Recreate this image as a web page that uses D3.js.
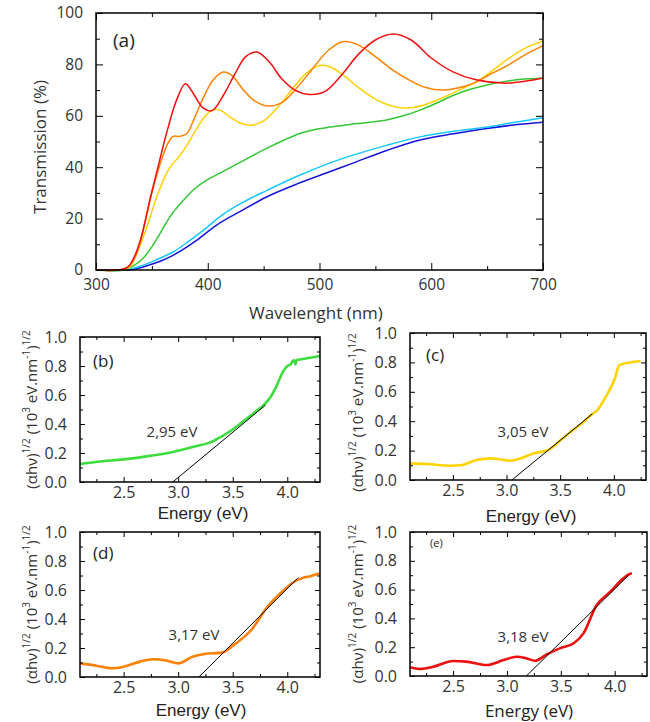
<!DOCTYPE html>
<html><head><meta charset="utf-8">
<script src="https://cdn.jsdelivr.net/npm/d3@7"></script>
<style>body{margin:0;background:#fff}svg{display:block}</style>
</head><body>
<svg id="c" width="650" height="722"></svg>
<script>
// ---------- Panel (a): transmission spectra ----------
const redWl=[300,320,328,333,340,348,356,363,372,380,388,396,404,414,424,434,444,455,466,478,491,505,520,535,550,566,582,600,620,640,667,685,700];
const redT=[0,0,1,4,12,27,41,53,66,72.5,68,63,62,68,76,83,84.8,81,74.5,70,68.3,69.5,76,84,89.5,91.8,89.5,82.5,77,74,72.7,73.5,74.7];
const orangeWl=[300,320,328,335,342,350,358,364,369,375,381,388,396,405,414,422,432,443,454,466,480,495,508,521,535,550,565,580,595,611,630,641,650,670,685,700];
const orangeT=[0,0,1,5,15,30,42,49,52,52,53,59,67,74,77,75.5,70,65.5,63.8,65,71,79,85.5,88.8,87.5,83,78,74,71,70,71.5,73.3,75.5,80,84,87.3];
const yellowWl=[300,322,330,338,345,354,363,368,374,382,390,398,405,412,420,430,440,450,462,475,488,500,510,522,535,550,563,577,592,610,630,641,650,670,685,700];
const yellowT=[0,0,1,8,16,28,37.5,41,44,49,55,60,62.5,62,59.5,57,56.4,58,63,70,76.5,79.6,79,75.5,71,66.5,64,63,64,67,71,73.3,76,82.5,86.5,89.1];
const greenWl=[300,325,333,342,350,357,363,370,378,388,399,410,423,438,453,468,483,495,509,525,545,560,575,590,605,620,635,650,665,680,700];
const greenT=[0,0,1.5,4.5,9,14,18.5,23,27,31.5,35,37.5,40.5,44,47.4,50.5,53.2,54.6,55.6,56.5,57.5,58.4,60,62.2,65,68,70.3,72,73.3,74.2,74.6];
const cyanWl=[300,326,336,346,354,369,384,399,411,430,453,480,509,530,560,590,620,650,675,700];
const cyanT=[0,0,1,2.5,4,7,11.5,16.5,20.8,26,31,36.5,41.6,44.7,48.5,51.8,54,55.6,57.5,59.2];
const blueWl=[300,328,338,348,358,368,378,390,408,430,453,480,509,530,560,590,620,650,675,700];
const blueT=[0,0,0.7,2,3.5,5.5,8,11.5,17.5,23,28.5,33.5,38.2,41.6,46.5,50.6,53,55.1,56.5,57.5];
const wlTicks=[300,400,500,600,700];
const wlMinor=[350,450,550,650];
const tTicks=[0,20,40,60,80,100];
const tMinor=[10,30,50,70,90];

// ---------- Panels (b)-(e): Tauc plots ----------
const bE=[2.1,2.26,2.5,2.74,2.96,3.14,3.3,3.4,3.5,3.6,3.7,3.79,3.85,3.9,3.96,4.0,4.03,4.05,4.065,4.075,4.085,4.13,4.3];
const bV=[0.124,0.14,0.156,0.18,0.209,0.243,0.275,0.315,0.362,0.42,0.48,0.535,0.59,0.66,0.76,0.8,0.81,0.835,0.84,0.81,0.84,0.846,0.869];
const bFit=[[2.95,0],[3.8,0.53]];
const cE=[2.1,2.26,2.47,2.57,2.72,2.85,2.95,3.03,3.13,3.25,3.4,3.52,3.62,3.71,3.8,3.84,3.92,4.01,4.05,4.15,4.25];
const cV=[0.113,0.109,0.097,0.1,0.136,0.147,0.14,0.131,0.147,0.18,0.209,0.28,0.34,0.39,0.45,0.47,0.56,0.69,0.78,0.8,0.81];
const cFit=[[3.05,0],[3.8,0.45]];
const dE=[2.1,2.25,2.39,2.5,2.65,2.77,2.9,3.0,3.13,3.24,3.4,3.51,3.67,3.82,3.97,4.05,4.13,4.22,4.3];
const dV=[0.094,0.078,0.06,0.071,0.106,0.122,0.112,0.094,0.14,0.159,0.168,0.221,0.324,0.485,0.6,0.65,0.68,0.697,0.715];
const dFit=[[3.19,0],[4.1,0.685]];
const eE=[2.1,2.19,2.32,2.5,2.62,2.81,2.97,3.09,3.18,3.26,3.37,3.49,3.62,3.71,3.83,3.96,4.08,4.13,4.16];
const eV=[0.06,0.049,0.065,0.104,0.1,0.076,0.111,0.134,0.123,0.106,0.15,0.192,0.227,0.296,0.49,0.585,0.678,0.705,0.713];
const eFit=[[3.18,0],[4.13,0.70]];
const eTicks=[2.5,3.0,3.5,4.0];
const eMinor=[2.25,2.75,3.25,3.75,4.25];
const vTicks=[0,0.2,0.4,0.6,0.8,1.0];
const vMinor=[0.1,0.3,0.5,0.7,0.9];
const gapLabels=["2,95 eV","3,05 eV","3,17 eV","3,18 eV"];
const panelLabels=["(a)","(b)","(c)","(d)","(e)"];

const svg=d3.select("#c");
const FONT="'Open Sans', 'DejaVu Sans', sans-serif";
const ARIAL="'Liberation Sans', Arial, sans-serif";

function frame(g,x,y,o){
  const [x0,x1]=x.range(), [y0,y1]=y.range();
  const add=(ax,tr)=>{
    const a=g.append("g").attr("transform",tr).call(ax);
    a.select(".domain").remove();
    a.selectAll("line").attr("stroke","#000").attr("stroke-width",1);
    a.selectAll("text").attr("font-family",FONT).attr("font-size",o.fs).attr("fill","#333");
    return a;
  };
  add(d3.axisBottom(x).tickValues(o.xMaj).tickSize(-o.maj).tickPadding(o.padX).tickFormat(o.fx),`translate(0,${y0})`);
  add(d3.axisBottom(x).tickValues(o.xMin).tickSize(-o.min).tickFormat(""),`translate(0,${y0})`);
  add(d3.axisTop(x).tickValues(o.xMaj).tickSize(-o.maj).tickFormat(""),`translate(0,${y1})`);
  add(d3.axisTop(x).tickValues(o.xMin).tickSize(-o.min).tickFormat(""),`translate(0,${y1})`);
  add(d3.axisLeft(y).tickValues(o.yMaj).tickSize(-o.maj).tickPadding(o.padY).tickFormat(o.fy),`translate(${x0},0)`);
  add(d3.axisLeft(y).tickValues(o.yMin).tickSize(-o.min).tickFormat(""),`translate(${x0},0)`);
  add(d3.axisRight(y).tickValues(o.yMaj).tickSize(-o.maj).tickFormat(""),`translate(${x1},0)`);
  add(d3.axisRight(y).tickValues(o.yMin).tickSize(-o.min).tickFormat(""),`translate(${x1},0)`);
  g.append("rect").attr("x",x0).attr("y",y1).attr("width",x1-x0).attr("height",y0-y1)
    .attr("fill","none").attr("stroke","#000").attr("stroke-width",1.5);
}

// ----- Panel (a)
{
  const g=svg.append("g");
  const x=d3.scaleLinear().domain([300,700]).range([96,543]);
  const y=d3.scaleLinear().domain([0,100]).range([270,13]);
  const series=[
    [blueWl,blueT,"#1414d8"],
    [cyanWl,cyanT,"#14c8ff"],
    [greenWl,greenT,"#33c633"],
    [yellowWl,yellowT,"#ffd000"],
    [orangeWl,orangeT,"#ff8200"],
    [redWl,redT,"#f01010"]
  ];
  const line=d3.line().x(d=>x(d[0])).y(d=>y(d[1])).curve(d3.curveCatmullRom.alpha(0.5));
  series.forEach(([w,t,c])=>{
    g.append("path").datum(w.map((v,i)=>[v,t[i]])).attr("d",line)
      .attr("fill","none").attr("stroke",c).attr("stroke-width",1.5);
  });
  frame(g,x,y,{xMaj:wlTicks,xMin:wlMinor,yMaj:tTicks,yMin:tMinor,maj:7,min:4,padX:9,padY:13,fs:15.5,
    fx:d3.format("d"),fy:d3.format("d")});
  g.append("text").attr("x",113).attr("y",47).text(panelLabels[0])
    .attr("font-family",FONT).attr("font-size",19).attr("fill","#222");
  g.append("text").attr("transform","translate(46,147) rotate(-90)").attr("text-anchor","middle")
    .text("Transmission (%)").attr("font-family",FONT).attr("font-size",17).attr("fill","#333");
  g.append("text").attr("x",316).attr("y",319).attr("text-anchor","middle")
    .text("Wavelenght (nm)").attr("font-family",FONT).attr("font-size",17).attr("fill","#333");
}

// ----- Panels (b)-(e)
const panels=[
  {E:bE,V:bV,fit:bFit,col:"#3ddc3d",x0:80,x1:320,yb:482,yt:337,lab:gapLabels[0],lx:172,ly:437,pl:panelLabels[1],px:93,py:367,pfs:17,tx:203,ty:519,tf:ARIAL,ylx:37,dyc:0},
  {E:cE,V:cV,fit:cFit,col:"#ffd200",x0:410,x1:646,yb:480,yt:333,lab:gapLabels[1],lx:523,ly:437,pl:panelLabels[2],px:426,py:361,pfs:17,tx:531,ty:522,tf:ARIAL,ylx:363,dyc:6},
  {E:dE,V:dV,fit:dFit,col:"#ff8000",x0:80,x1:320,yb:677,yt:532,lab:gapLabels[2],lx:194,ly:640,pl:panelLabels[3],px:93,py:559,pfs:17,tx:201,ty:716,tf:ARIAL,ylx:37,dyc:0},
  {E:eE,V:eV,fit:eFit,col:"#ee0f0f",x0:410,x1:647,yb:676,yt:532,lab:gapLabels[3],lx:523,ly:642,pl:panelLabels[4],px:430,py:547,pfs:11,tx:529,ty:717,tf:FONT,ylx:363,dyc:0}
];
panels.forEach(p=>{
  const g=svg.append("g");
  const x=d3.scaleLinear().domain([2.1,4.3]).range([p.x0,p.x1]);
  const y=d3.scaleLinear().domain([0,1]).range([p.yb,p.yt]);
  const line=d3.line().x(d=>x(d[0])).y(d=>y(d[1])).curve(d3.curveMonotoneX);
  g.append("path").datum(p.E.map((v,i)=>[v,p.V[i]])).attr("d",line)
    .attr("fill","none").attr("stroke",p.col).attr("stroke-width",2.6).attr("stroke-linejoin","round");
  g.append("path").datum(p.fit).attr("d",d3.line().x(d=>x(d[0])).y(d=>y(d[1])))
    .attr("fill","none").attr("stroke","#000").attr("stroke-width",1);
  frame(g,x,y,{xMaj:eTicks,xMin:eMinor,yMaj:vTicks,yMin:vMinor,maj:5,min:3,padX:5,padY:13,fs:16,
    fx:d3.format(".1f"),fy:d3.format(".1f")});
  g.append("text").attr("x",p.lx).attr("y",p.ly).attr("text-anchor","middle").text(p.lab)
    .attr("font-family",FONT).attr("font-size",15).attr("fill","#333");
  g.append("text").attr("x",p.px).attr("y",p.py).text(p.pl)
    .attr("font-family",FONT).attr("font-size",p.pfs).attr("fill","#222");
  g.append("text").attr("x",p.tx).attr("y",p.ty).attr("text-anchor","middle").text("Energy (eV)")
    .attr("font-family",p.tf).attr("font-size",17).attr("fill","#222");
  const cy=(p.yb+p.yt)/2+p.dyc;
  const t=g.append("text").attr("transform",`translate(${p.ylx},${cy}) rotate(-90)`).attr("text-anchor","middle")
    .attr("font-family",FONT).attr("font-size",15).attr("fill","#333");
  const parts=[["(αhν)",0],["1/2",1],[" (10",0],["3",1],[" eV.nm",0],["-1",1],[")",0],["1/2",1]];
  let up=false;
  parts.forEach(([s,sup])=>{
    const ts=t.append("tspan").text(s);
    if(sup){ts.attr("font-size",10).attr("dy",up?0:-7);up=true;}
    else{ts.attr("dy",up?7:0);up=false;}
  });
});
</script>
</body></html>
